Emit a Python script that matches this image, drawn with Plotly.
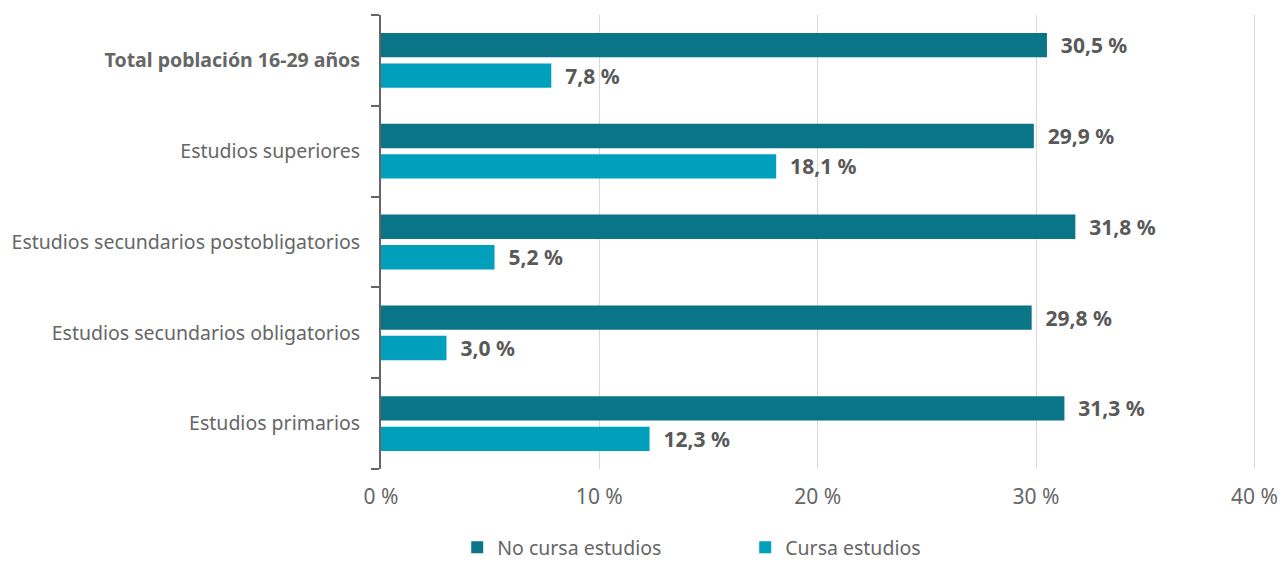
import plotly.graph_objects as go

categories = [
    "Total población 16-29 años",
    "Estudios superiores",
    "Estudios secundarios postobligatorios",
    "Estudios secundarios obligatorios",
    "Estudios primarios",
]
no_cursa = [30.5, 29.9, 31.8, 29.8, 31.3]
cursa = [7.8, 18.1, 5.2, 3.0, 12.3]
series_names = ["No cursa estudios", "Cursa estudios"]
x_ticks = [0, 10, 20, 30, 40]
x_ticklabels = ["0 %", "10 %", "20 %", "30 %", "40 %"]

FONT = "Noto Sans"
TXT = "#666666"
LBL = "#595959"

def fmt(v):
    return "\u00a0\u00a0" + f"{v:.1f}".replace(".", ",") + " %"

fig = go.Figure()
for name, vals, col in [(series_names[0], no_cursa, "#0a7587"),
                        (series_names[1], cursa, "#00a0bd")]:
    fig.add_trace(go.Bar(
        y=categories, x=vals, name=name, orientation="h",
        marker=dict(color=col, line=dict(width=0)),
        text=[fmt(v) for v in vals], textposition="outside",
        constraintext="none",
        textfont=dict(family=FONT, size=21, color=LBL, weight="bold"),
        cliponaxis=False,
    ))

ticktext = ["<b>" + categories[0] + "</b>"] + categories[1:]

fig.update_layout(
    width=1281, height=567,
    margin=dict(l=381, r=24, t=15, b=98),
    paper_bgcolor="white", plot_bgcolor="white",
    barmode="group", bargap=0.33, bargroupgap=0.2,
    font=dict(family=FONT, size=19.5, color=TXT),
    showlegend=True,
    legend=dict(orientation="h", x=0.087, xanchor="left",
                yref="container", y=0.0, yanchor="bottom",
                font=dict(family=FONT, size=19.5, color=TXT), traceorder="normal",
                entrywidth=243, entrywidthmode="pixels"),
    xaxis=dict(range=[0, 40.12], tickvals=x_ticks, ticktext=x_ticklabels,
               showgrid=True, gridcolor="#d9d9d9", gridwidth=1,
               zeroline=False, showline=False, ticks="", automargin=False,
               tickfont=dict(family=FONT, size=21, color=TXT),
               ticklabelstandoff=13),
    yaxis=dict(autorange="reversed", tickvals=categories, ticktext=ticktext,
               showline=True, linecolor="#666666", linewidth=2,
               ticks="outside", ticklen=8, tickcolor="#666666", tickwidth=2,
               tickson="boundaries", showgrid=False, automargin=False,
               tickfont=dict(family=FONT, size=19.5, color=TXT),
               ticklabelstandoff=15),
)

fig.write_html("out.html", config={"displayModeBar": False},
               post_script="document.body.style.margin='0';")
